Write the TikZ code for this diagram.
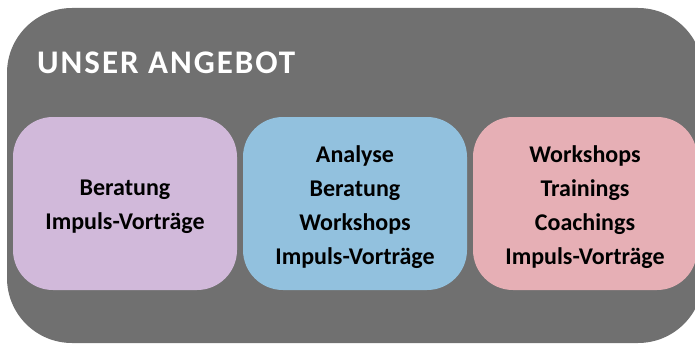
\documentclass[tikz,border=0pt]{standalone}
\usepackage{fontspec}
\setmainfont{Carlito}
\newfontfamily\headingfont[LetterSpace=6]{Carlito}
\usepackage{xcolor}
\usetikzlibrary{positioning}

\definecolor{panelgray}{HTML}{707070}
\definecolor{lilac}{HTML}{D1B9DA}
\definecolor{skyblue}{HTML}{92C1DE}
\definecolor{rosepink}{HTML}{E6AFB5}

\begin{document}
\begin{tikzpicture}[x=1pt, y=-1pt,
    panel/.style={rectangle, fill=panelgray, rounded corners=65pt, minimum width=696pt, minimum height=335pt, inner sep=0pt},
    heading/.style={text=white, font=\headingfont\bfseries\fontsize{33}{38}\selectfont, inner sep=0pt},
    offer/.style={rectangle, rounded corners=40pt, minimum width=224pt, minimum height=173pt, inner sep=0pt},
    offertext/.style={align=center, inner sep=0pt, yshift=-3.5pt, font=\bfseries\fontsize{24}{34}\selectfont}
]
\useasboundingbox (0,0) rectangle (695,345);

% Background panel
\node[panel] (panel) at (355,175.5) {};
\node[heading, anchor=base west] (title) at (37,74) {UNSER ANGEBOT};

% Offer boxes
\node[offer, fill=lilac] (basic) at (125,203.5) {};
\node[offer, fill=skyblue] (analysis) at (355,203.5) {};
\node[offer, fill=rosepink] (training) at (585,203.5) {};

% Box contents
\node[offertext] (basic text) at (basic.center) {Beratung\\Impuls-Vorträge};
\node[offertext] (analysis text) at (analysis.center) {Analyse\\Beratung\\Workshops\\Impuls-Vorträge};
\node[offertext] (training text) at (training.center) {Workshops\\Trainings\\Coachings\\Impuls-Vorträge};

\end{tikzpicture}
\end{document}
